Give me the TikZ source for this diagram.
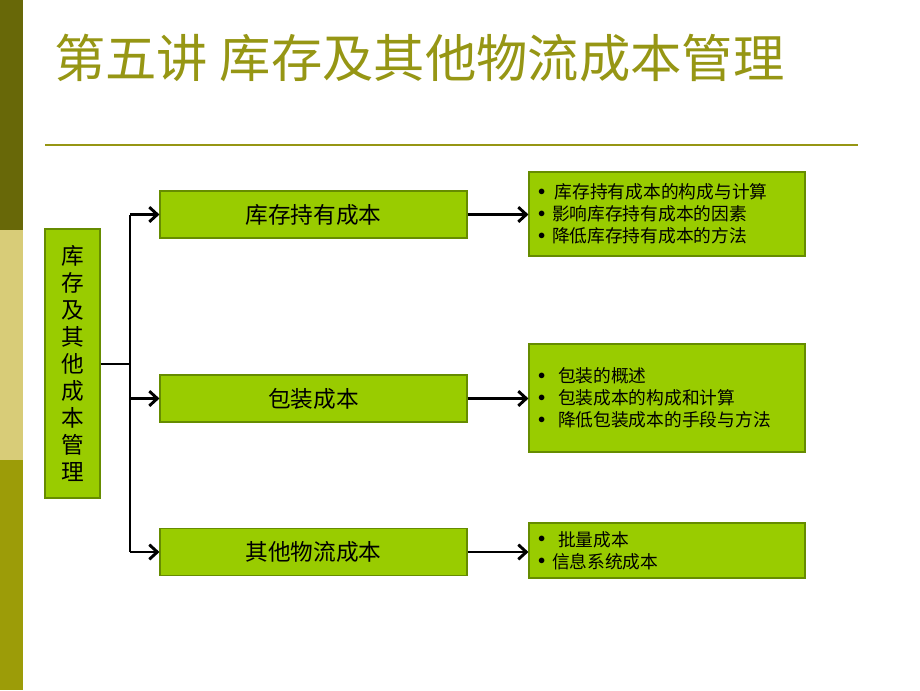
\documentclass[tikz,border=0pt]{standalone}
\usepackage{fontspec}
\setmainfont{Noto Sans CJK SC}
\usepackage{tikz}
\usetikzlibrary{arrows.meta,positioning}

\definecolor{stripedark}{RGB}{104,104,8}
\definecolor{stripepale}{RGB}{216,204,120}
\definecolor{stripeolive}{RGB}{156,156,8}
\definecolor{titleolive}{RGB}{150,150,20}
\definecolor{boxfill}{RGB}{153,204,0}
\definecolor{boxdraw}{RGB}{102,140,0}

\newcommand{\dotitem}{\makebox[10.5pt][l]{\raisebox{2.5pt}{\scalebox{0.75}{$\bullet$}}}}

\begin{document}
\begin{tikzpicture}[x=0.75pt,y=-0.75pt]
      \tikzstyle{box}=[rectangle,thick,draw=boxdraw,fill=boxfill,inner sep=0pt]
      \tikzstyle{mid}=[box,minimum width=230.25pt,minimum height=35.25pt,font=\fontsize{17}{20}\selectfont]
      \tikzstyle{note}=[box,minimum width=207pt,align=left,text width=193.5pt,
                        font=\fontsize{13.3}{16.5}\selectfont]
      \tikzstyle{link}=[line width=2.2pt,-{Straight Barb[length=6pt,width=11pt]}]

      \useasboundingbox (0,0) rectangle (920,690);

      % left stripe
      \fill[stripedark] (0,0) rectangle (23,230);
      \fill[stripepale] (0,230) rectangle (23,460);
      \fill[stripeolive] (0,460) rectangle (23,690);

      % title
      \node[anchor=west,inner sep=0pt,text=titleolive,font=\fontsize{38.5}{44}\selectfont]
        (title) at (54,58) {第五讲 库存及其他物流成本管理};
      \draw[titleolive,line width=1.5pt] (45,145) -- (858,145);

      \begin{scope}
        \node[box,minimum width=41.25pt,minimum height=201.75pt,align=center,
              font=\fontsize{17}{20.25}\selectfont]
          (root) at (72.5,363.5) {库\\存\\及\\其\\他\\成\\本\\管\\理};

        \node[mid](m1) at (313.5,214.5){库存持有成本};
        \node[mid](m2) at (313.5,398.5){包装成本};
        \node[mid](m3) at (313.5,552){其他物流成本};

        \node[note,minimum height=63pt](r1) at (667,214)
          {\dotitem\hspace{2pt}库存持有成本的构成与计算\\\dotitem 影响库存持有成本的因素\\\dotitem 降低库存持有成本的方法};
        \node[note,minimum height=81pt](r2) at (667,398)
          {\dotitem\hspace{4.5pt}包装的概述\\\dotitem\hspace{4.5pt}包装成本的构成和计算\\\dotitem\hspace{4.5pt}降低包装成本的手段与方法};
        \node[note,minimum height=41.25pt](r3) at (667,550.5)
          {\dotitem\hspace{4.5pt}批量成本\\\dotitem 信息系统成本};

        \coordinate (fork) at (130,364);
        \coordinate (top) at (130,214.5);
        \coordinate (bot) at (130,552);

        \draw[line width=2.2pt] (root.east |- fork) -- (fork);
        \draw[line width=2.2pt] (top) -- (bot);
        \path[link]
        (top) edge (m1.west)
        (fork |- m2.west) edge (m2.west)
        (bot) edge (m3.west)
        (m1.east) edge (r1.west |- m1.east)
        (m2.east) edge (r2.west |- m2.east)
        (m3.east) edge (r3.west |- m3.east);
      \end{scope}
    \end{tikzpicture}
\end{document}
